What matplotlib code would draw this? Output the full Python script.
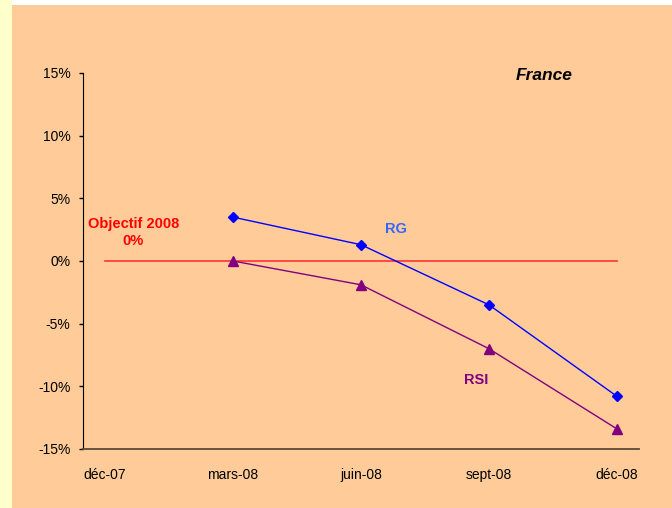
import matplotlib
matplotlib.use("Agg")
import matplotlib.pyplot as plt
from matplotlib.patches import Rectangle
from matplotlib.ticker import FuncFormatter

plt.rcParams["font.family"] = ["Liberation Sans", "DejaVu Sans"]
plt.rcParams["axes.unicode_minus"] = False

categories = ["déc-07", "mars-08", "juin-08", "sept-08", "déc-08"]
rg_x = [1, 2, 3, 4]
rg = [3.5, 1.3, -3.5, -10.8]
rsi_x = [1, 2, 3, 4]
rsi = [0.0, -1.9, -7.0, -13.4]
objectif = [0, 0, 0, 0, 0]

fig = plt.figure(figsize=(6.72, 5.08), dpi=100)
fig.patch.set_facecolor("white")
# peach panel + pale yellow strip on the left
fig.patches.append(Rectangle((12 / 672, 0), 1, 1 - 5 / 508, transform=fig.transFigure,
                             facecolor="#FFCC99", edgecolor="none", zorder=-10))
fig.patches.append(Rectangle((0, 0), 12 / 672, 1, transform=fig.transFigure,
                             facecolor="#FFFFCC", edgecolor="none", zorder=-10))

ax = fig.add_axes([83 / 672, 1 - 449 / 508, (639 - 83) / 672, (449 - 73) / 508])
ax.set_facecolor("none")

xs = range(len(categories))
ax.plot(xs, objectif, color="#FF3333", lw=1.2, zorder=2)
ax.plot(rg_x, rg, color="#0000FF", lw=1, marker="D", ms=5, zorder=3)
ax.plot(rsi_x, rsi, color="#800080", lw=1, marker="^", ms=6.5, zorder=3)

ax.set_xlim(-0.172, 4.172)
ax.set_ylim(-15, 15)
ax.set_yticks(range(-15, 16, 5))
ax.yaxis.set_major_formatter(FuncFormatter(lambda v, p: f"{v:.0f}%"))
ax.set_xticks(list(xs))
ax.set_xticklabels(categories)
ax.tick_params(axis="y", length=3, width=1, pad=6, labelsize=10, colors="black")
ax.tick_params(axis="x", length=0, pad=14, labelsize=10)

for s in ["top", "right"]:
    ax.spines[s].set_visible(False)
ax.spines["left"].set_color("black")
ax.spines["bottom"].set_color("#5a4a3a")
ax.spines["bottom"].set_linewidth(1.3)

ax.text(2.27, 2.55, "RG", color="#3366FF", fontsize=10.5, fontweight="bold",
        ha="center", va="center")
ax.text(2.90, -9.5, "RSI", color="#800080", fontsize=10.5, fontweight="bold",
        ha="center", va="center")
ax.text(0.22, 2.3, "Objectif 2008\n0%", color="#FF0000", fontsize=10.5,
        fontweight="bold", ha="center", va="center", linespacing=1.25)
ax.text(3.43, 14.8, "France", color="black", fontsize=12.5, fontweight="bold",
        fontstyle="italic", ha="center", va="center")

fig.savefig("out.png", dpi=100, facecolor=fig.get_facecolor())
